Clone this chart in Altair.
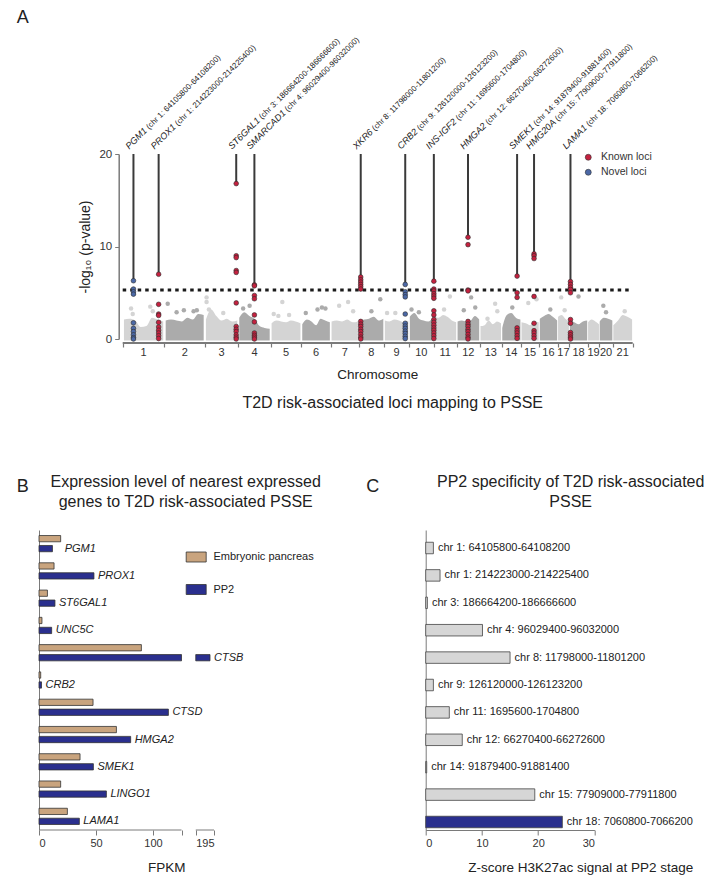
import altair as alt
import pandas as pd

FONT = "Liberation Sans"
TXT = "#222222"
AXC = "#7a7a7a"
LIGHT = "#d4d4d4"
DARK = "#ababab"
KNOWN = "#c4213f"
NOVEL = "#4b68a6"
TAN = "#c9a47e"
NAVY = "#2a2f8e"
CGRAY = "#d6d6d6"

# ---------------- Panel A data ----------------
chrom_names = [str(i) for i in range(1, 22)]
chrom_len_mb = [249, 241, 199, 193, 183, 175, 167, 151, 149, 146, 139,
                137, 130, 115, 109, 110, 69, 110, 69, 80, 119]
bg_envelope = [
    [2.1, 2.2, 2.0, 1.3, 1.4, 2.3, 2.1, 1.9],
    [2.0, 2.1, 2.0, 1.9, 2.3, 2.1, 2.7, 2.6],
    [2.1, 3.2, 2.5, 2.0, 2.2, 1.9, 2.0],
    [2.3, 2.9, 2.5, 2.2, 1.4, 1.2, 1.1],
    [1.7, 2.0, 1.9, 1.8, 2.0, 1.9, 1.7],
    [1.6, 2.1, 1.9, 1.5, 2.2, 2.0, 1.8],
    [1.9, 2.0, 1.9, 2.1, 1.8, 1.9],
    [1.9, 2.1, 2.2, 2.4, 2.0, 2.2],
    [2.0, 1.9, 2.1, 2.0, 1.8, 2.0],
    [2.4, 2.8, 2.2, 2.0, 1.9, 2.3],
    [2.5, 2.3, 2.6, 2.4, 2.0, 1.8],
    [1.9, 2.0, 1.9, 2.0, 2.5, 2.1],
    [1.4, 1.5, 2.0, 1.6, 1.9, 1.7],
    [1.2, 2.6, 2.8, 2.3, 2.1],
    [1.8, 1.7, 1.5, 1.9, 1.8],
    [2.2, 2.5, 2.7, 2.4, 2.0],
    [2.4, 2.6, 2.2, 1.9],
    [2.1, 1.8, 1.6, 1.9, 2.0],
    [1.8, 2.1, 1.9, 1.6],
    [1.9, 2.3, 2.2, 2.0],
    [1.5, 2.0, 2.6, 2.4, 2.1],
]
bg_outliers = [
    [(0.20, 3.3), (0.24, 2.7), (0.66, 3.5), (0.72, 3.0)],
    [(0.08, 3.8), (0.30, 2.9), (0.48, 3.1), (0.72, 3.0), (0.80, 3.1)],
    [(0.05, 4.5), (0.05, 4.0), (0.12, 3.2), (0.55, 2.8)],
    [(0.15, 3.3), (0.35, 3.6)],
    [(0.38, 4.0), (0.10, 2.7), (0.25, 2.5), (0.60, 2.6)],
    [(0.15, 2.8), (0.55, 3.2), (0.70, 3.4), (0.82, 3.3)],
    [(0.30, 3.6), (0.62, 4.0), (0.80, 3.0)],
    [(0.50, 3.0), (0.85, 4.3)],
    [(0.12, 2.8), (0.45, 2.8)],
    [(0.10, 3.2), (0.40, 2.9)],
    [(0.45, 3.2), (0.70, 4.6)],
    [(0.30, 3.1), (0.62, 4.5), (0.80, 3.4)],
    [(0.35, 2.2), (0.70, 3.8), (0.80, 3.0)],
    [(0.55, 3.4)],
    [(0.40, 3.9), (0.85, 4.3)],
    [(0.60, 3.2)],
    [(0.30, 4.5), (0.60, 3.1)],
    [(0.50, 4.6)],
    [],
    [(0.30, 3.6), (0.50, 2.9)],
    [(0.60, 3.0)],
]

loci_gene = ["PGM1", "PROX1", "ST6GAL1", "SMARCAD1", "XKR6", "CRB2",
             "INS-IGF2", "HMGA2", "SMEK1", "HMG20A", "LAMA1"]
loci_chrom = [1, 1, 3, 4, 8, 9, 11, 12, 14, 15, 18]
loci_start = [64105800, 214223000, 186664200, 96029400, 11798000, 126120000,
              1695600, 66270400, 91879400, 77909000, 7060800]
loci_end = [64108200, 214225400, 186666600, 96032000, 11801200, 126123200,
            1704800, 66272600, 91881400, 77911800, 7066200]
loci_type = ["Novel loci", "Known loci", "Known loci", "Known loci", "Known loci",
             "Novel loci", "Known loci", "Known loci", "Known loci", "Known loci",
             "Known loci"]
loci_logp = [
    [6.3, 5.4, 5.1, 4.85, 1.75, 1.15, 0.8, 0.45, 0.15, 0.0],
    [7.0, 3.75, 2.7, 2.55, 1.8, 1.3, 0.95, 0.65, 0.35, 0.05],
    [16.8, 9.0, 8.8, 7.4, 7.2, 3.9, 1.35, 1.05, 0.8, 0.45, 0.2, 0.0],
    [5.85, 5.75, 4.7, 4.35, 2.6, 1.85, 0.65, 0.4, 0.2, 0.0],
    [6.7, 6.4, 6.15, 5.9, 5.65, 5.4, 1.9, 1.6, 1.35, 1.05, 0.8, 0.5, 0.2, 0.0],
    [5.9, 5.1, 4.8, 4.55, 2.7, 1.7, 1.4, 1.15, 0.85, 0.6, 0.3, 0.05],
    [6.25, 5.4, 5.2, 4.9, 4.65, 4.4, 3.05, 2.6, 2.1, 1.8, 1.5, 1.2, 0.95, 0.65, 0.35, 0.05],
    [11.0, 10.2, 5.3, 5.2, 1.9, 1.6, 1.35, 1.05, 0.8, 0.5, 0.2, 0.0],
    [6.8, 5.0, 4.5, 1.2, 0.9, 0.65, 0.35, 0.07],
    [9.2, 9.0, 8.7, 4.6, 1.7, 0.9, 0.65, 0.35, 0.07],
    [6.2, 5.9, 5.6, 5.35, 5.0, 2.1, 1.7, 0.7, 0.45, 0.2, 0.0],
]
sig_threshold = 5.3
a_yticks = [0, 10, 20]

# ---------------- Panel B data ----------------
genes_b = ["PGM1", "PROX1", "ST6GAL1", "UNC5C", "CTSB", "CRB2", "CTSD",
           "HMGA2", "SMEK1", "LINGO1", "LAMA1"]
series_b = ["Embryonic pancreas", "PP2"]
fpkm_emb = [19.0, 13.2, 7.4, 2.6, 89.8, 1.5, 47.4, 67.9, 36.0, 19.0, 24.9]
fpkm_pp2 = [11.8, 48.2, 14.0, 11.1, 191.5, 2.2, 113.5, 80.4, 47.7, 59.1, 35.4]
b_ticks = [0, 50, 100]
b_break_at, b_resume_at, b_axis_end = 125, 179, 195

# ---------------- Panel C data ----------------
regions_c = ["chr 1: 64105800-64108200", "chr 1: 214223000-214225400",
             "chr 3: 186664200-186666600", "chr 4: 96029400-96032000",
             "chr 8: 11798000-11801200", "chr 9: 126120000-126123200",
             "chr 11: 1695600-1704800", "chr 12: 66270400-66272600",
             "chr 14: 91879400-91881400", "chr 15: 77909000-77911800",
             "chr 18: 7060800-7066200"]
zscore_c = [1.37, 2.55, 0.3, 10.1, 15.0, 1.37, 4.2, 6.5, 0.18, 19.4, 24.3]
highlight_c = [0, 0, 0, 0, 0, 0, 0, 0, 0, 0, 1]
c_ticks = [0, 10, 20, 30]

# ---------------- helpers ----------------
CW = {"A": 667, "B": 667, "C": 722, "D": 722, "E": 667, "F": 611, "G": 778,
      "H": 722, "I": 278, "J": 500, "K": 667, "L": 556, "M": 833, "N": 722,
      "O": 778, "P": 667, "Q": 778, "R": 722, "S": 667, "T": 611, "U": 722,
      "V": 667, "W": 944, "X": 667, "Y": 667, "Z": 611, "-": 333, " ": 278}


def text_width(s, size):
    return sum(CW.get(ch, 556) for ch in s) * size / 1000.0


def annot(text, x, y, size, align="center", baseline="middle", **kw):
    return alt.Chart(pd.DataFrame({"t": [text]})).mark_text(
        fontSize=size, font=FONT, color=TXT, align=align, baseline=baseline, **kw
    ).encode(x=alt.value(x), y=alt.value(y), text="t:N")


# ---------------- Panel A ----------------
A_W, A_H, A_DATA_PX = 593.7, 185, 510
cum = []
s = 0
for L in chrom_len_mb:
    cum.append(s)
    s += L
TOTAL = s
A_X0 = -(A_W - A_DATA_PX) * TOTAL / A_DATA_PX

bg_rows, out_rows = [], []
for i, env in enumerate(bg_envelope):
    L = chrom_len_mb[i]
    par = "odd" if (i % 2 == 0) else "even"
    n = len(env)
    for j, h in enumerate(env):
        bg_rows.append(dict(chrom=chrom_names[i], par=par,
                            x=cum[i] + L * (0.03 + 0.94 * j / (n - 1)), y=h, y0=-0.15))
    for f, v in bg_outliers[i]:
        out_rows.append(dict(chrom=chrom_names[i], par=par, x=cum[i] + L * f, y=v))
bg_df = pd.DataFrame(bg_rows)
out_df = pd.DataFrame(out_rows)

pt_rows, line_rows = [], []
for g, c, st, t, vals in zip(loci_gene, loci_chrom, loci_start, loci_type, loci_logp):
    x = cum[c - 1] + st / 1e6
    for v in vals:
        pt_rows.append(dict(gene=g, type=t, x=x, y=v))
    line_rows.append(dict(gene=g, x=x, ytop=max(vals), y20=20))
pt_df = pd.DataFrame(pt_rows)
line_df = pd.DataFrame(line_rows)

chrom_df = pd.DataFrame({"name": chrom_names,
                         "xc": [cum[i] + chrom_len_mb[i] / 2 for i in range(21)]})
bounds = cum + [TOTAL]

xs = alt.Scale(domain=[A_X0, TOTAL], nice=False, zero=False)
ys = alt.Scale(domain=[0, 20], nice=False)
xa = alt.Axis(values=bounds, labels=False, domain=False, tickSize=4, tickColor=AXC,
              tickWidth=1.2, offset=4, title=None, grid=False)
ya = alt.Axis(values=a_yticks, offset=-79.7, title="-log₁₀ (p-value)", titleFontSize=14,
              titleFontWeight="normal", titlePadding=6, labelFontSize=11.5,
              tickSize=4, tickColor=AXC, domainColor=AXC, domainWidth=1.5,
              labelPadding=3, grid=False)


def AX(f):
    return alt.X(f, type="quantitative", scale=xs, axis=xa)


def AY(f):
    return alt.Y(f, type="quantitative", scale=ys, axis=ya)


layers_a = []
for par, col in (("odd", LIGHT), ("even", DARK)):
    layers_a.append(alt.Chart(bg_df[bg_df.par == par]).mark_area(
        color=col, interpolate="monotone").encode(
        x=AX("x"), y=AY("y"), y2="y0", detail="chrom:N"))
    layers_a.append(alt.Chart(out_df[out_df.par == par]).mark_circle(
        color=col, size=20, opacity=1).encode(x=AX("x"), y=AY("y")))

axis_line = alt.Chart(pd.DataFrame({"a": [0], "b": [TOTAL]})).mark_rule(
    color=AXC, strokeWidth=2).encode(x=AX("a"), x2="b", y=alt.value(A_H + 4))
thr = alt.Chart(pd.DataFrame({"a": [0], "b": [TOTAL], "y": [sig_threshold]})).mark_rule(
    color="#1a1a1a", strokeWidth=3, strokeDash=[3.5, 4]).encode(x=AX("a"), x2="b", y=AY("y"))
vlines = alt.Chart(line_df).mark_rule(color="#3a3a3a", strokeWidth=2).encode(
    x=AX("x"), y=AY("ytop"), y2="y20")
pts = alt.Chart(pt_df).mark_point(filled=True, shape="circle", size=22, opacity=1,
                                   stroke="#2b2b2b", strokeWidth=0.6).encode(
    x=AX("x"), y=AY("y"),
    color=alt.Color("type:N", scale=alt.Scale(domain=["Known loci", "Novel loci"],
                                              range=[KNOWN, NOVEL]),
                    legend=alt.Legend(orient="none", legendX=544, legendY=-2, title=None,
                                      symbolSize=36, symbolType="circle",
                                      symbolStrokeColor="#333", symbolStrokeWidth=0.6,
                                      labelFontSize=10.5, labelOffset=7.5, rowPadding=4,
                                      labelColor="#333", direction="vertical", padding=0)))
chrom_lbl = alt.Chart(chrom_df).mark_text(fontSize=11, color="#333", font=FONT,
                                          baseline="middle").encode(
    x=AX("xc"), y=alt.value(A_H + 14), text="name:N")

G_FS, C_FS = 9.2, 8.0
label_layers = []
for g, c, st, en, (_, lr) in zip(loci_gene, loci_chrom, loci_start, loci_end, line_df.iterrows()):
    coord = "(chr %d: %d-%d)" % (c, st, en)
    d = pd.DataFrame({"x": [lr.x], "y": [20], "g": [g], "c": [coord]})
    label_layers.append(alt.Chart(d).mark_text(
        angle=315, align="left", baseline="alphabetic", fontStyle="italic",
        fontSize=G_FS, font=FONT, color=TXT, dx=0, dy=-6).encode(
        x=AX("x"), y=AY("y"), text="g:N"))
    label_layers.append(alt.Chart(d).mark_text(
        angle=315, align="left", baseline="alphabetic", fontSize=C_FS, font=FONT,
        color=TXT, dx=text_width(g, G_FS) + text_width(" ", C_FS), dy=-6).encode(
        x=AX("x"), y=AY("y"), text="c:N"))

A = alt.layer(
    *layers_a, axis_line, thr, vlines, pts, chrom_lbl, *label_layers,
    annot("A", -16.3, -136, 18),
    annot("Chromosome", 338.7, 221, 13.5),
    annot("T2D risk-associated loci mapping to PSSE", 353.7, 249, 16),
).properties(width=A_W, height=A_H)

# ---------------- Panel B ----------------
B_W, B_H = 175, 300
B_SHIFT = b_resume_at - (b_break_at + 12.5)
B_END = b_axis_end - B_SHIFT


def disp(v):
    return v if v <= b_break_at else v - B_SHIFT


b_rows, bl_rows = [], []
for g, e, p in zip(genes_b, fpkm_emb, fpkm_pp2):
    for ser, v in ((series_b[0], e), (series_b[1], p)):
        if v <= b_break_at:
            b_rows.append(dict(gene=g, series=ser, x0=0, x1=v))
        else:
            b_rows.append(dict(gene=g, series=ser, x0=0, x1=b_break_at))
            b_rows.append(dict(gene=g, series=ser, x0=b_resume_at - B_SHIFT, x1=disp(v)))
    bl_rows.append(dict(gene=g, xl=max(disp(e), disp(p))))
b_df = pd.DataFrame(b_rows)
bl_df = pd.DataFrame(bl_rows)
bseg_df = pd.DataFrame({"a": [0, b_resume_at - B_SHIFT], "b": [b_break_at, B_END]})

bxs = alt.Scale(domain=[0, B_END], nice=False)
b_tick_vals = b_ticks + [b_break_at, b_resume_at - B_SHIFT, B_END]
bxa = alt.Axis(values=b_tick_vals, domain=False, tickSize=5, tickColor=AXC,
               labelFontSize=11, labelPadding=2, title=None, grid=False,
               labelExpr="datum.value == %s ? '%d' : (datum.value > %d ? '' : datum.label)"
                         % (repr(float(B_END)), b_axis_end, max(b_ticks)))
bys = alt.Scale(paddingInner=0, paddingOuter=0)
bya = alt.Axis(labels=False, ticks=False, title=None, domainColor=AXC, grid=False)

bars_b = alt.Chart(b_df).mark_bar(stroke="#333", strokeWidth=0.8).encode(
    y=alt.Y("gene:N", sort=genes_b, scale=bys, axis=bya),
    yOffset=alt.YOffset("series:N", sort=series_b,
                        scale=alt.Scale(paddingInner=0.37, paddingOuter=0.555)),
    x=alt.X("x0:Q", scale=bxs, axis=bxa), x2="x1",
    color=alt.Color("series:N", sort=series_b,
                    scale=alt.Scale(domain=series_b, range=[TAN, NAVY]),
                    legend=alt.Legend(orient="none", legendX=146.7, legendY=16.5, title=None,
                                      direction="vertical",
                                      symbolType="M-1,-0.5L1,-0.5L1,0.5L-1,0.5Z",
                                      symbolSize=400, symbolStrokeColor="#333",
                                      symbolStrokeWidth=0.8, symbolOpacity=1,
                                      labelFontSize=11, labelOffset=6.7, rowPadding=14.5,
                                      labelColor=TXT, padding=0)))
lbl_b = alt.Chart(bl_df).mark_text(align="left", baseline="middle", fontStyle="italic",
                                   fontSize=11, font=FONT, color=TXT, dx=4, dy=5).encode(
    y=alt.Y("gene:N", sort=genes_b, scale=bys, axis=bya),
    x=alt.X("xl:Q", scale=bxs, axis=bxa), text="gene:N")
bseg = alt.Chart(bseg_df).mark_rule(color=AXC, strokeWidth=1).encode(
    x=alt.X("a:Q", scale=bxs, axis=bxa), x2="b", y=alt.value(B_H))

B = alt.layer(
    bars_b, lbl_b, bseg,
    annot("B", -16.3, -43, 18),
    annot("Expression level of nearest expressed", 146.7, -47.7, 16),
    annot("genes to T2D risk-associated PSSE", 146.7, -27.7, 16),
    annot("FPKM", 127.7, 338, 13.5),
).properties(width=B_W, height=B_H)

# ---------------- Panel C ----------------
C_W, C_H = 168.7, 300
c_df = pd.DataFrame({"region": regions_c, "z": zscore_c, "hl": highlight_c})
cys = alt.Scale(paddingInner=0.58, paddingOuter=0.2645, align=0.845)
cya = alt.Axis(labels=False, ticks=False, title=None, domainColor=AXC, grid=False)
cxs = alt.Scale(domain=[0, 30], nice=False)
cxa = alt.Axis(values=c_ticks, tickSize=5, tickColor=AXC, domainColor=AXC,
               labelFontSize=11, labelPadding=2, title=None, grid=False)

bars_c = alt.Chart(c_df).mark_bar(stroke="#444", strokeWidth=0.8).encode(
    y=alt.Y("region:N", sort=regions_c, scale=cys, axis=cya),
    x=alt.X("z:Q", scale=cxs, axis=cxa),
    fill=alt.condition("datum.hl == 1", alt.value(NAVY), alt.value(CGRAY)))
lbl_c = alt.Chart(c_df).mark_text(align="left", baseline="middle", fontSize=11,
                                  font=FONT, color=TXT, dx=4.5).encode(
    y=alt.Y("region:N", sort=regions_c, scale=cys, axis=cya),
    x=alt.X("z:Q", scale=cxs, axis=cxa), text="region:N")

C = alt.layer(
    bars_c, lbl_c,
    annot("C", -53, -43, 18),
    annot("PP2 specificity of T2D risk-associated", 145, -47.7, 16),
    annot("PSSE", 145, -27.7, 16),
    annot("Z-score H3K27ac signal at PP2 stage", 155, 338, 13.5),
).properties(width=C_W, height=C_H)

chart = alt.vconcat(
    A, alt.hconcat(B, C, spacing=44.7), spacing=63
).resolve_scale(color="independent").properties(
    padding={"left": 8, "top": 1, "right": 0, "bottom": 0}
).configure(font=FONT).configure_view(stroke=None).configure_axis(
    labelFont=FONT, titleFont=FONT, labelColor="#333", titleColor=TXT, grid=False
).configure_legend(labelFont=FONT)

chart.save("out.html", embed_options={"renderer": "svg", "actions": False})
